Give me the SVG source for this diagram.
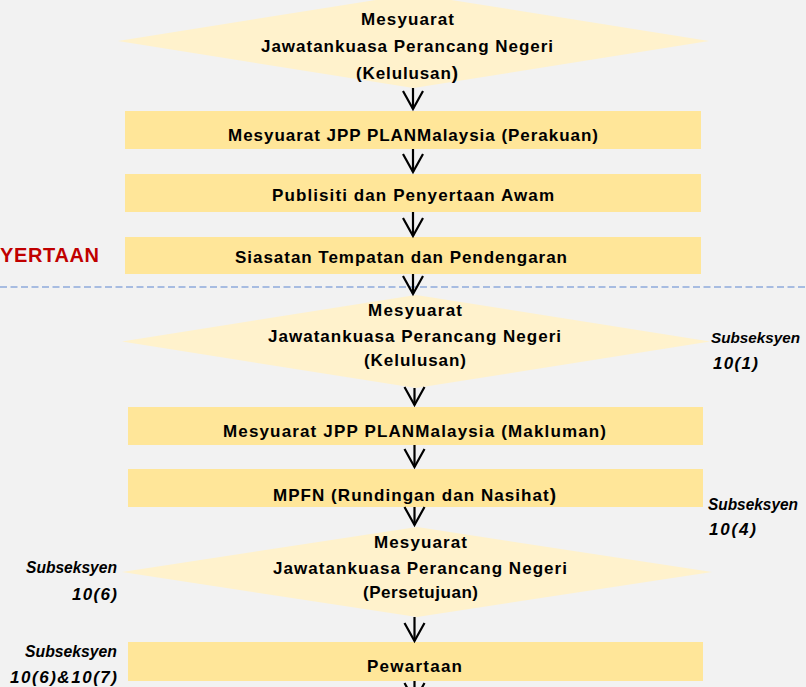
<svg xmlns="http://www.w3.org/2000/svg" width="806" height="687" viewBox="0 0 806 687">
<defs>
<style>
.bg{fill:#f2f2f2}
.box{fill:#ffe699}
.dia{fill:#fff2cc}
.t{font-family:"Liberation Sans",Arial,sans-serif;font-weight:700;font-size:17px;fill:#000;text-anchor:middle}
.side{font-family:"Liberation Sans",Arial,sans-serif;font-weight:700;font-style:italic;font-size:17px;fill:#000}
.end{text-anchor:end}
.red{font-family:"Liberation Sans",Arial,sans-serif;font-weight:700;font-size:20px;fill:#c00000}
.arr{stroke:#000;stroke-width:2.2;fill:none;marker-end:url(#v)}
.dash{stroke:#8faadc;stroke-width:1.5;stroke-dasharray:7 3.5;fill:none}
</style>
<marker id="v" markerUnits="userSpaceOnUse" markerWidth="40" markerHeight="40" viewBox="-20 -20 40 40" refX="0" refY="0" orient="auto" overflow="visible">
<path d="M-18,-10 L0,0 L-18,10" fill="none" stroke="#000" stroke-width="2.2" stroke-linejoin="miter"/>
</marker>
</defs>
<rect class="bg" x="0" y="0" width="806" height="687"/>

<line class="dash" x1="0" y1="287" x2="806" y2="287"/>
<text class="red" x="0" y="262" textLength="99">YERTAAN</text>

<g id="node-d1">
<polygon class="dia" points="118,41 413.5,-6 709,41 413.5,88"/>
<text class="t" x="407.5" y="25" textLength="93">Mesyuarat</text>
<text class="t" x="407" y="52" textLength="292">Jawatankuasa Perancang Negeri</text>
<text class="t" x="407" y="79" textLength="102">(Kelulusan<tspan font-size="19">)</tspan></text>
</g>
<g id="node-b1">
<rect class="box" x="125" y="111" width="576" height="38"/>
<text class="t" x="413" y="141" textLength="370">Mesyuarat JPP PLANMalaysia (Perakuan)</text>
</g>
<g id="node-b2">
<rect class="box" x="125" y="174" width="576" height="38"/>
<text class="t" x="413" y="201" textLength="282">Publisiti dan Penyertaan Awam</text>
</g>
<g id="node-b3">
<rect class="box" x="125" y="237" width="576" height="37"/>
<text class="t" x="401" y="263" textLength="332">Siasatan Tempatan dan Pendengaran</text>
</g>
<g id="node-d2">
<polygon class="dia" points="122,341.5 416,295 710,341.5 416,388"/>
<text class="t" x="415" y="316" textLength="94">Mesyuarat</text>
<text class="t" x="414.5" y="342" textLength="293">Jawatankuasa Perancang Negeri</text>
<text class="t" x="415" y="366" textLength="102">(Kelulusan)</text>
</g>
<g id="node-b4">
<rect class="box" x="128" y="407" width="575" height="38"/>
<text class="t" x="414.5" y="437" textLength="383">Mesyuarat JPP PLANMalaysia (Makluman)</text>
</g>
<g id="node-b5">
<rect class="box" x="128" y="469" width="575" height="38"/>
<text class="t" x="414.5" y="501" textLength="283">MPFN (Rundingan dan Nasihat<tspan font-size="19">)</tspan></text>
</g>
<g id="node-d3">
<polygon class="dia" points="122,572 417,527 712,572 417,617"/>
<text class="t" x="420.5" y="548" textLength="93">Mesyuarat</text>
<text class="t" x="420" y="574" textLength="294">Jawatankuasa Perancang Negeri</text>
<text class="t" x="420.5" y="598" textLength="115">(Persetujuan)</text>
</g>
<g id="node-b6">
<rect class="box" x="128" y="642" width="575" height="39"/>
<text class="t" x="414.5" y="672" textLength="95">Pewartaan</text>
</g>

<g id="labels">
<text class="side" x="711" y="343" style="font-size:15.5px" textLength="89" lengthAdjust="spacingAndGlyphs">Subseksyen</text>
<text class="side" x="713" y="369" textLength="45">10(1)</text>
<text class="side" x="708" y="510" textLength="90" lengthAdjust="spacingAndGlyphs">Subseksyen</text>
<text class="side" x="709" y="535" textLength="47">10(4)</text>
<text class="side end" x="117" y="573" textLength="91" lengthAdjust="spacingAndGlyphs">Subseksyen</text>
<text class="side end" x="117" y="600" textLength="45">10(6)</text>
<text class="side end" x="117" y="657" textLength="92" lengthAdjust="spacingAndGlyphs">Subseksyen</text>
<text class="side end" x="117" y="683" textLength="107">10(6)&amp;10(7)</text>
</g>

<g id="connectors">
<line class="arr" x1="413" y1="88" x2="413" y2="109"/>
<line class="arr" x1="413" y1="149" x2="413" y2="172"/>
<line class="arr" x1="413" y1="212" x2="413" y2="236"/>
<line class="arr" x1="413" y1="274" x2="413" y2="294"/>
<line class="arr" x1="414.5" y1="388" x2="414.5" y2="405"/>
<line class="arr" x1="414.5" y1="445" x2="414.5" y2="467"/>
<line class="arr" x1="414.5" y1="507" x2="414.5" y2="525"/>
<line class="arr" x1="414.5" y1="617" x2="414.5" y2="641"/>
<line class="arr" x1="414.5" y1="681" x2="414.5" y2="701"/>
</g>
</svg>
